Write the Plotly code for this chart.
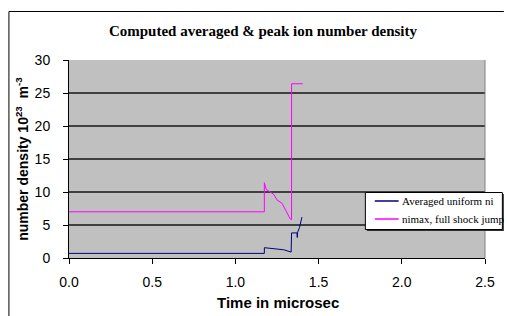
import plotly.graph_objects as go

# Data
avg_time = [0.0, 1.174, 1.174, 1.23, 1.29, 1.335, 1.3375, 1.370, 1.372, 1.374, 1.385, 1.400]
avg_ni = [0.7, 0.7, 1.56, 1.45, 1.25, 0.9, 3.8, 3.8, 3.1, 3.9, 4.6, 6.2]

peak_time = [0.0, 1.174, 1.174, 1.185, 1.23, 1.25, 1.28, 1.30, 1.33, 1.3375, 1.3375, 1.405]
peak_ni = [7.0, 7.0, 11.4, 10.4, 9.65, 8.8, 8.3, 7.3, 5.9, 5.8, 26.4, 26.4]

series_names = ["Averaged uniform ni", "nimax, full shock jump"]
series_colors = ["#000080", "#FF00FF"]
x_ticks = [0.0, 0.5, 1.0, 1.5, 2.0, 2.5]
y_ticks = [0, 5, 10, 15, 20, 25, 30]

W, H = 507, 316
L, T = 69, 60
pw = 488 - 69
ph = 258 - 60
R = W - L - pw
B = H - T - ph


def px_x(wx):
    return (wx - L) / pw


def px_y(wy):
    return 1 - (wy - T) / ph


fig = go.Figure()
for xs, ys, nm, col in [(avg_time, avg_ni, series_names[0], series_colors[0]),
                        (peak_time, peak_ni, series_names[1], series_colors[1])]:
    fig.add_trace(go.Scatter(x=xs, y=ys, mode="lines", name=nm,
                             line=dict(color=col, width=1), showlegend=False))

shapes = []
# outer chart border (left and top visible; rest cropped in reference)
shapes.append(dict(type="line", xref="paper", yref="paper",
                   x0=px_x(8.5), x1=px_x(8.5), y0=px_y(316), y1=px_y(11.5),
                   line=dict(color="black", width=1)))
shapes.append(dict(type="line", xref="paper", yref="paper",
                   x0=px_x(8.5), x1=px_x(507), y0=px_y(11.5), y1=px_y(11.5),
                   line=dict(color="black", width=1)))
# right plot-area edge (gray)
shapes.append(dict(type="line", xref="paper", yref="paper", x0=1, x1=1, y0=0, y1=1,
                   line=dict(color="#808080", width=1)))
# legend: shadow, box, samples
shapes.append(dict(type="rect", xref="paper", yref="paper",
                   x0=px_x(369), x1=px_x(507), y0=px_y(231), y1=px_y(194),
                   line=dict(width=0), fillcolor="#303030"))
shapes.append(dict(type="rect", xref="paper", yref="paper",
                   x0=px_x(367.5), x1=px_x(505.5), y0=px_y(229.5), y1=px_y(192.5),
                   line=dict(color="black", width=1), fillcolor="white"))
legend_rows = [201, 219]
annotations = []
for wy, nm, col in zip(legend_rows, series_names, series_colors):
    shapes.append(dict(type="line", xref="paper", yref="paper",
                       x0=px_x(377), x1=px_x(401), y0=px_y(wy), y1=px_y(wy),
                       line=dict(color=col, width=1.5)))
    annotations.append(dict(text=nm, xref="paper", yref="paper", x=px_x(402), y=px_y(wy),
                            xanchor="left", yanchor="middle", showarrow=False,
                            font=dict(family="Liberation Serif", size=11, color="black")))

# axis title as annotation for exact placement
annotations.append(dict(text="<b>Time in microsec</b>", xref="paper", yref="paper",
                        x=px_x(280), y=px_y(302), xanchor="center", yanchor="middle",
                        showarrow=False,
                        font=dict(family="Liberation Sans", size=15, color="black")))

fig.update_layout(
    width=W, height=H,
    margin=dict(l=L, r=R, t=T, b=B),
    paper_bgcolor="white",
    plot_bgcolor="#C0C0C0",
    shapes=shapes,
    annotations=annotations,
    title=dict(text="<b>Computed averaged &amp; peak ion number density</b>",
               x=263 / W, xanchor="center", xref="container",
               y=1 - 31 / H, yanchor="middle", yref="container",
               font=dict(family="Liberation Serif", size=15, color="black")),
    xaxis=dict(range=[0, 2.5], tickvals=x_ticks, ticktext=[f"{v:.1f}" for v in x_ticks],
               showgrid=False, zeroline=False, showline=True, linecolor="black", linewidth=1,
               ticks="outside", ticklen=5, tickcolor="black", ticklabelstandoff=6,
               tickfont=dict(family="Liberation Sans", size=14, color="black")),
    yaxis=dict(range=[0, 30], tickvals=y_ticks,
               showgrid=True, gridcolor="#404040", gridwidth=1.5, zeroline=False,
               showline=True, linecolor="black", linewidth=1,
               ticks="outside", ticklen=5, tickcolor="black", ticklabelstandoff=10,
               tickfont=dict(family="Liberation Sans", size=14, color="black"),
               title=dict(text="<b>number density 10<sup>23</sup>  m<sup>-3</sup></b>", standoff=2,
                          font=dict(family="Liberation Sans", size=14, color="black"))),
    showlegend=False,
)

fig.write_html("out.html", config={"displayModeBar": False},
               post_script=("document.body.style.margin='0';"
                            "document.body.style.overflow='hidden';"
                            "document.documentElement.style.overflow='hidden';"))
